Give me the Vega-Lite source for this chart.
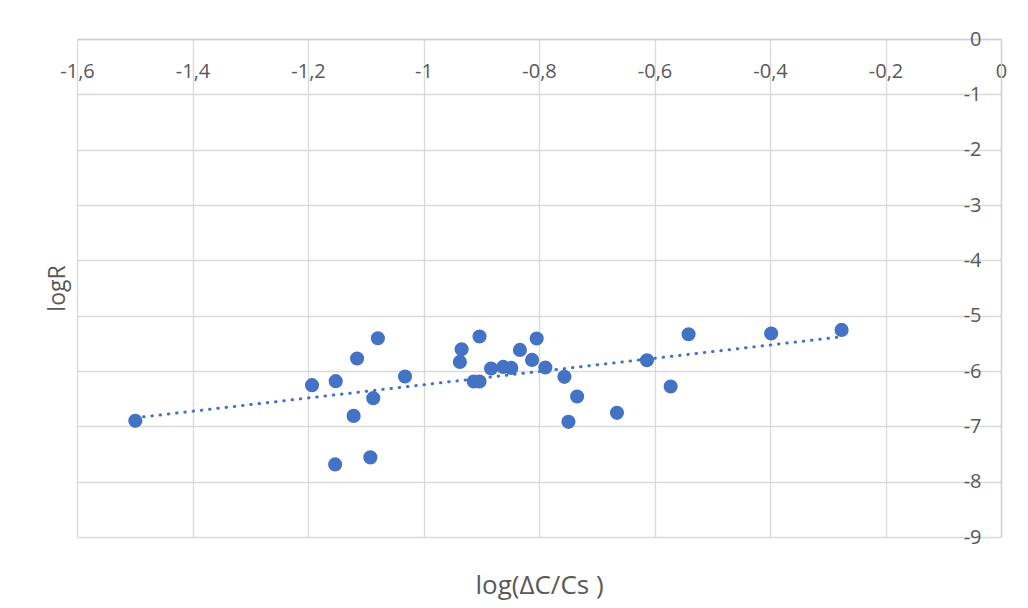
{
  "$schema": "https://vega.github.io/schema/vega-lite/v6.json",
  "width": 924,
  "height": 498,
  "autosize": {"type": "none"},
  "padding": {"left": 77, "top": 39, "right": 27, "bottom": 71},
  "background": "#ffffff",
  "config": {
    "view": {"stroke": null},
    "font": "Open Sans"
  },
  "data": {
    "values": [
      {"x": -1.499, "y": -6.901},
      {"x": -1.193, "y": -6.256},
      {"x": -1.152, "y": -6.184},
      {"x": -1.115, "y": -5.774},
      {"x": -1.079, "y": -5.408},
      {"x": -1.032, "y": -6.099},
      {"x": -1.087, "y": -6.491},
      {"x": -1.121, "y": -6.811},
      {"x": -1.153, "y": -7.688},
      {"x": -1.092, "y": -7.561},
      {"x": -0.934, "y": -5.606},
      {"x": -0.937, "y": -5.836},
      {"x": -0.903, "y": -5.377},
      {"x": -0.913, "y": -6.19},
      {"x": -0.903, "y": -6.19},
      {"x": -0.883, "y": -5.955},
      {"x": -0.862, "y": -5.926},
      {"x": -0.848, "y": -5.944},
      {"x": -0.833, "y": -5.619},
      {"x": -0.812, "y": -5.8},
      {"x": -0.804, "y": -5.413},
      {"x": -0.789, "y": -5.937},
      {"x": -0.756, "y": -6.106},
      {"x": -0.734, "y": -6.46},
      {"x": -0.749, "y": -6.919},
      {"x": -0.665, "y": -6.756},
      {"x": -0.613, "y": -5.805},
      {"x": -0.572, "y": -6.28},
      {"x": -0.541, "y": -5.336},
      {"x": -0.398, "y": -5.323},
      {"x": -0.276, "y": -5.258}
    ]
  },
  "encoding": {
    "x": {
      "field": "x",
      "type": "quantitative",
      "scale": {"domain": [-1.6, 0], "nice": false, "zero": false},
      "axis": {
        "orient": "top",
        "values": [-1.6, -1.4, -1.2, -1, -0.8, -0.6, -0.4, -0.2, 0],
        "labelExpr": "replace(toString(datum.value), '.', ',')",
        "labelFlush": false,
        "labelOverlap": false,
        "ticks": false,
        "tickSize": 0,
        "labelPadding": -32,
        "labelBaseline": "middle",
        "labelFontSize": 20,
        "labelColor": "#595959",
        "labelFont": "Open Sans",
        "domainColor": "#d0d0d0",
        "domainWidth": 1.3,
        "gridColor": "#d9d9d9",
        "gridWidth": 1.3,
        "title": "log(ΔC/Cs )",
        "titleY": 546,
        "titleBaseline": "middle",
        "titleFontSize": 26,
        "titleFontWeight": "normal",
        "titleColor": "#595959",
        "titleFont": "Open Sans"
      }
    },
    "y": {
      "field": "y",
      "type": "quantitative",
      "scale": {"domain": [-9, 0], "nice": false, "zero": false},
      "axis": {
        "orient": "right",
        "values": [0, -1, -2, -3, -4, -5, -6, -7, -8, -9],
        "labelExpr": "toString(datum.value)",
        "labelFlush": false,
        "labelOverlap": false,
        "ticks": false,
        "tickSize": 0,
        "labelAlign": "right",
        "labelPadding": -20,
        "labelBaseline": "middle",
        "labelFontSize": 20,
        "labelColor": "#595959",
        "labelFont": "Open Sans",
        "domainColor": "#d0d0d0",
        "domainWidth": 1.3,
        "gridColor": "#d9d9d9",
        "gridWidth": 1.3,
        "title": "logR",
        "titleX": -944,
        "titleAngle": 270,
        "titleBaseline": "middle",
        "titleFontSize": 23,
        "titleFontWeight": "normal",
        "titleColor": "#595959",
        "titleFont": "Open Sans"
      }
    }
  },
  "layer": [
    {
      "transform": [{"regression": "y", "on": "x"}],
      "mark": {
        "type": "line",
        "color": "#4472C4",
        "strokeWidth": 3,
        "strokeCap": "round",
        "strokeDash": [0.5, 7.8]
      },
      "encoding": {}
    },
    {
      "mark": {"type": "circle", "color": "#4472C4", "opacity": 1, "size": 200},
      "encoding": {}
    }
  ]
}
